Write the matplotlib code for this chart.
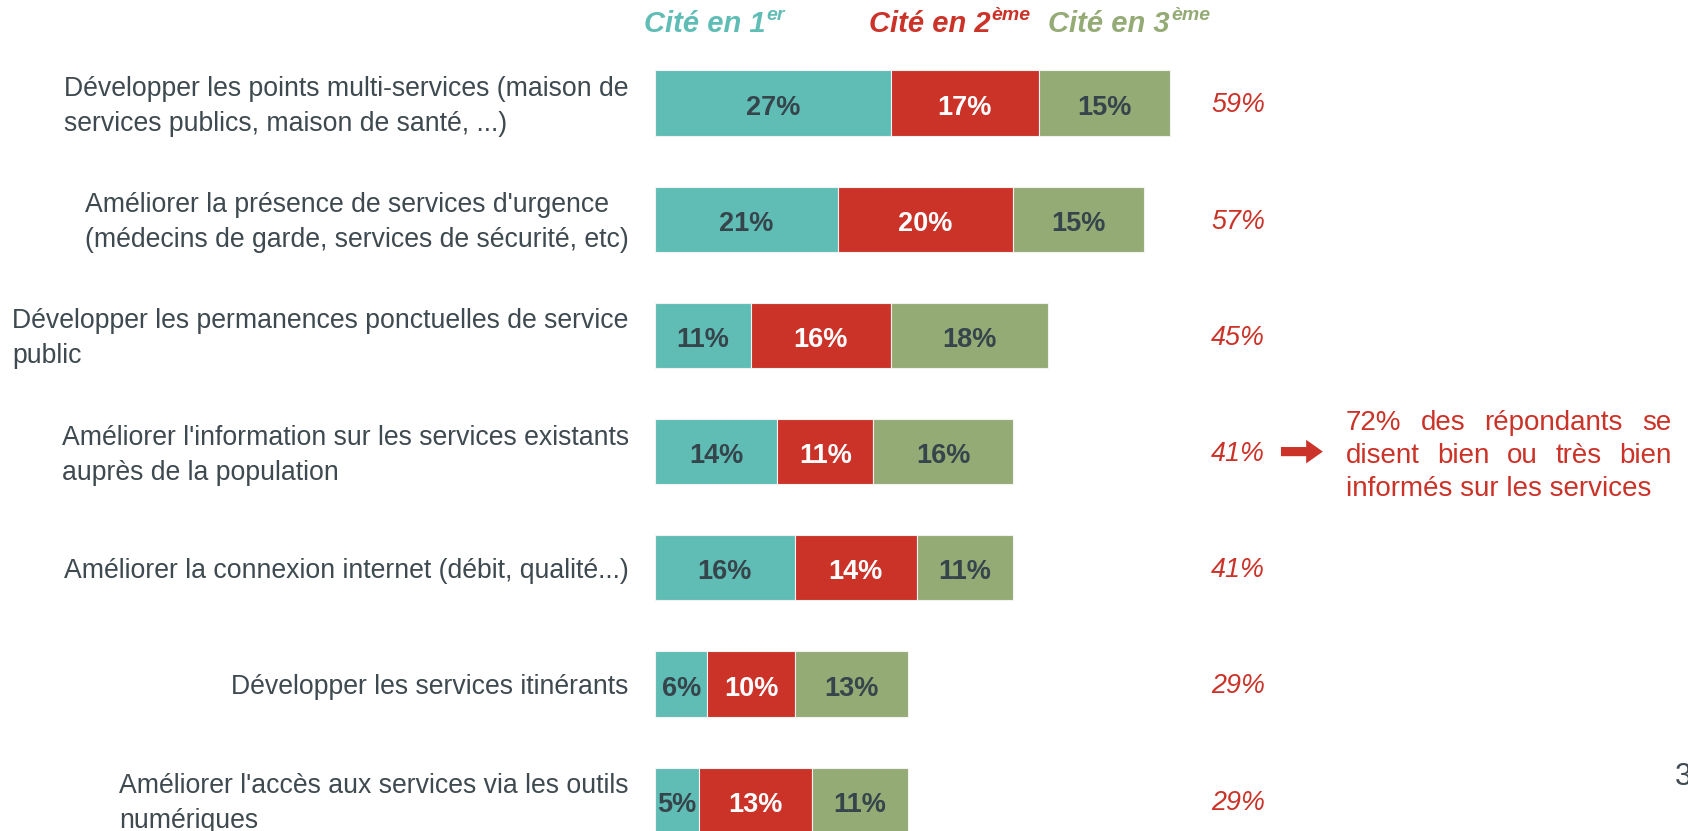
import matplotlib
matplotlib.use('Agg')
import matplotlib.pyplot as plt
import numpy as np

plt.rcParams['font.family'] = ['Liberation Sans', 'DejaVu Sans']

categories = [
    "Développer les points multi-services (maison de\nservices publics, maison de santé, ...)",
    "Améliorer la présence de services d'urgence\n(médecins de garde, services de sécurité, etc)",
    "Développer les permanences ponctuelles de service\npublic",
    "Améliorer l'information sur les services existants\nauprès de la population",
    "Améliorer la connexion internet (débit, qualité...)",
    "Développer les services itinérants",
    "Améliorer l'accès aux services via les outils\nnumériques",
]
cite_1 = [27, 21, 11, 14, 16, 6, 5]
cite_2 = [17, 20, 16, 11, 14, 10, 13]
cite_3 = [15, 15, 18, 16, 11, 13, 11]
totals = ['59%', '57%', '45%', '41%', '41%', '29%', '29%']
headers = [('Cité en 1', 'er'), ('Cité en 2', 'ème'), ('Cité en 3', 'ème')]
note_lines = ['72% des répondants se', 'disent bien ou très bien', 'informés sur les services']

colors = ['#5FBDB5', '#CB3228', '#95AB76']
label_colors = ['#36454B', 'white', '#36454B']
text_color = '#3E4A50'
red = '#CB3228'

W, H = 1688, 831
fig = plt.figure(figsize=(W / 100, H / 100), dpi=100)
ax = fig.add_axes([0, 0, 1, 1])
px = 8.73      # pixels per percent
row = 116.2    # pixels per row
x0, y0 = 655, 103
ax.set_xlim(-x0 / px, (W - x0) / px)
ax.set_ylim((H - y0) / row, -y0 / row)
ax.axis('off')

y = np.arange(len(categories))
left = np.zeros(len(categories))
for vals, c, lc in zip([cite_1, cite_2, cite_3], colors, label_colors):
    ax.barh(y, vals, left=left, height=0.56, color=c, edgecolor='#F2F2F2', linewidth=0.8)
    for yi, v, l in zip(y, vals, left):
        ax.text(l + v / 2, yi + 0.04, f'{v}%', ha='center', va='center',
                fontsize=19.5, fontweight='bold', color=lc)
    left += np.array(vals)

for yi, cat in zip(y, categories):
    ax.text(-3, yi + 0.03, cat, ha='right', va='center', multialignment='left',
            fontsize=19.2, color=text_color, linespacing=1.45)

for yi, t in zip(y, totals):
    ax.text(66.8, yi + 0.02, t, ha='center', va='center', fontsize=19.4, style='italic', color=red)

# header legend
hy = -0.68
for (main, sup), c, xa in zip(headers, colors, [12.7, 38.4, 59.0]):
    ax.text(xa, hy, main, ha='right', va='center', fontsize=21, fontweight='bold',
            style='italic', color=c)
    ax.text(xa + 0.1, hy - 0.07, sup, ha='left', va='center', fontsize=14,
            fontweight='bold', style='italic', color=c)

# arrow + note
ax.annotate('', xy=(76.5, 3), xytext=(71.7, 3),
            arrowprops=dict(arrowstyle='simple,head_length=0.6,head_width=0.85,tail_width=0.33',
                            color=red, lw=0, mutation_scale=20, shrinkA=0, shrinkB=0))

fig.canvas.draw()
renderer = fig.canvas.get_renderer()
nx_left, nx_right = 79.15, 116.4
for i, line in enumerate(note_lines):
    ly = 3.035 + (i - 1) * 0.285
    words = line.split()
    if i == len(note_lines) - 1:
        ax.text(nx_left, ly, line, ha='left', va='center', fontsize=20, color=red)
        continue
    arts = [ax.text(0, ly, w, ha='left', va='center', fontsize=20, color=red) for w in words]
    widths = []
    for a in arts:
        bb = a.get_window_extent(renderer)
        widths.append(bb.width / px)
    gap = (nx_right - nx_left - sum(widths)) / (len(words) - 1)
    xpos = nx_left
    for a, w in zip(arts, widths):
        a.set_x(xpos)
        xpos += w + gap

ax.text(116.8, 5.8, '3', ha='left', va='center', fontsize=22, color=text_color)

fig.savefig('out.png', dpi=100)
